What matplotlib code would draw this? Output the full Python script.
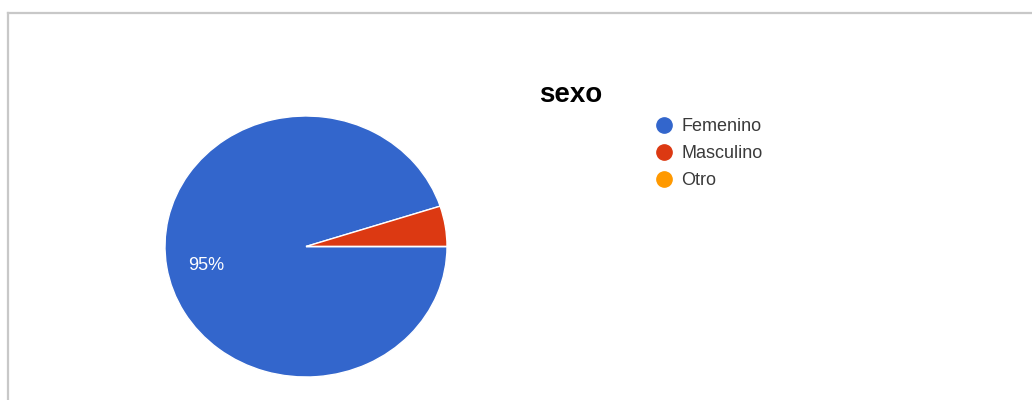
import matplotlib
matplotlib.use("Agg")
import matplotlib.pyplot as plt
from matplotlib.lines import Line2D

plt.rcParams['font.family'] = ['Liberation Sans', 'DejaVu Sans']

# data
labels = ["Femenino", "Masculino", "Otro"]
values = [95, 5, 0]
colors = ["#3366cc", "#dc3912", "#ff9900"]
title = "sexo"

W, H = 1032, 400
fig = plt.figure(figsize=(W / 100, H / 100), dpi=100)

# grey frame lines (top and left) like the screenshot
fig.add_artist(Line2D([8 / W, 1], [1 - 12.5 / H, 1 - 12.5 / H], color="#c8c8c8", lw=1.6))
fig.add_artist(Line2D([8 / W, 8 / W], [0, 1 - 12.5 / H], color="#c8c8c8", lw=1.6))


# only label big slices, like google forms does
def pct_label(p):
    return "%d%%" % round(p) if p >= 10 else ""


# pie is a bit wider than tall in the screenshot
ax = fig.add_axes([165 / W, 23 / H, 282 / W, 261 / H])
wedges, texts, autotexts = ax.pie(values, colors=colors, startangle=0, counterclock=False,
                                  autopct=pct_label, pctdistance=0.72,
                                  wedgeprops=dict(edgecolor="white", linewidth=1),
                                  textprops=dict(color="white", fontsize=13))
# nudge the label down a touch
for t in autotexts:
    x, y = t.get_position()
    t.set_position((x, y - 0.03))
ax.set_aspect("auto")
ax.set_xlim(-1, 1)
ax.set_ylim(-1, 1)
ax.axis("off")

fig.text(571 / W, 1 - 102 / H, title, ha="center", va="baseline",
         fontsize=20, fontweight="bold", color="black")

handles = [Line2D([], [], marker="o", linestyle="none", markersize=11,
                  markerfacecolor=c, markeredgecolor=c) for c in colors]
fig.legend(handles, labels, loc="upper left", bbox_to_anchor=(655 / W, 1 - 118 / H),
           frameon=False, borderpad=0, borderaxespad=0, handlelength=1,
           handletextpad=0.45, labelspacing=0.56, fontsize=13, labelcolor="#3a3a3a")

fig.savefig("out.png", dpi=100, facecolor="white")
